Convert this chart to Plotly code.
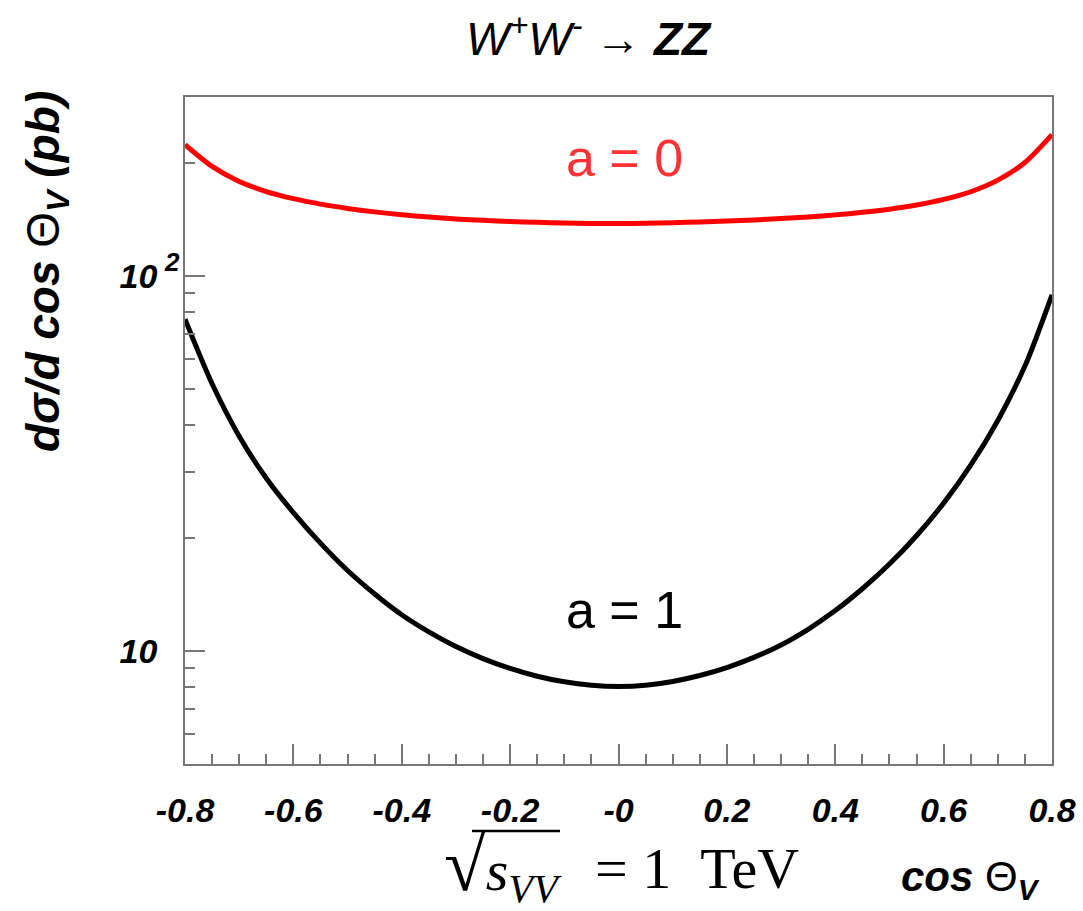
import math
import plotly.graph_objects as go

# ---- data ----
cos_theta = [-0.80, -0.75, -0.70, -0.65, -0.60, -0.55, -0.50, -0.45, -0.40, -0.35,
             -0.30, -0.25, -0.20, -0.15, -0.10, -0.05, 0.00, 0.05, 0.10, 0.15,
             0.20, 0.25, 0.30, 0.35, 0.40, 0.45, 0.50, 0.55, 0.60, 0.65,
             0.70, 0.75, 0.80]

xsec_a0 = [223.9, 195.9, 178.6, 167.9, 160.7, 155.4, 151.4, 148.2, 145.6, 143.6,
           141.9, 140.7, 139.7, 139.0, 138.5, 138.1, 137.9, 138.2, 138.7, 139.3,
           140.2, 141.1, 142.3, 143.7, 145.5, 147.8, 150.7, 154.6, 160.0, 167.7,
           180.1, 200.7, 238.1]

xsec_a1 = [76.7, 51.6, 37.4, 28.9, 23.4, 19.4, 16.4, 14.2, 12.5, 11.25,
           10.28, 9.55, 8.99, 8.57, 8.28, 8.11, 8.05, 8.11, 8.30, 8.61,
           9.04, 9.62, 10.38, 11.43, 12.82, 14.66, 17.06, 20.3, 24.8, 31.3,
           41.2, 57.5, 89.1]

x_tickvals = [-0.8, -0.6, -0.4, -0.2, 0.0, 0.2, 0.4, 0.6, 0.8]
x_ticktext = ["-0.8", "-0.6", "-0.4", "-0.2", "-0", "0.2", "0.4", "0.6", "0.8"]
x_minor = [-0.75, -0.7, -0.65, -0.55, -0.5, -0.45, -0.35, -0.3, -0.25, -0.15, -0.1, -0.05,
           0.05, 0.1, 0.15, 0.25, 0.3, 0.35, 0.45, 0.5, 0.55, 0.65, 0.7, 0.75]
y_tickvals = [10, 100]
y_ticktext = ["10", "10"]
y_exponent_label = "2"
y_minor = [5, 6, 7, 8, 9, 20, 30, 40, 50, 60, 70, 80, 90, 200]
y_range = [5, 300]

# ---- figure ----
FRAME = "#777777"
SANS = "Liberation Sans, Arial, sans-serif"
SERIF = "Liberation Serif, DejaVu Serif, serif"

fig = go.Figure()
fig.add_trace(go.Scatter(x=cos_theta, y=xsec_a0, mode="lines",
                         line=dict(color="#ff0000", width=5, shape="spline", smoothing=0.8),
                         name="a = 0"))
fig.add_trace(go.Scatter(x=cos_theta, y=xsec_a1, mode="lines",
                         line=dict(color="#000000", width=5, shape="spline", smoothing=0.8),
                         name="a = 1"))

axis_common = dict(showline=True, linecolor=FRAME, linewidth=1.5, mirror=True, ticks="inside",
                   ticklen=20, tickwidth=1.5, tickcolor=FRAME, showgrid=False, zeroline=False,
                   automargin=False)

fig.update_xaxes(range=[-0.8, 0.8], tickmode="array", tickvals=x_tickvals, ticktext=x_ticktext,
                 tickfont=dict(family=SANS, size=34, color="black", weight="bold", style="italic"),
                 ticklabelstandoff=15,
                 minor=dict(tickmode="array", tickvals=x_minor, ticks="inside", ticklen=10,
                            tickwidth=1.5, tickcolor=FRAME, showgrid=False),
                 **axis_common)
fig.update_yaxes(type="log", range=[math.log10(y_range[0]), math.log10(y_range[1])],
                 tickmode="array", tickvals=y_tickvals, ticktext=y_ticktext,
                 tickfont=dict(family=SANS, size=34, color="black", weight="bold", style="italic"),
                 ticklabelstandoff=19,
                 minor=dict(tickmode="array", tickvals=y_minor, ticks="inside", ticklen=10,
                            tickwidth=1.5, tickcolor=FRAME, showgrid=False),
                 **axis_common)

L, R, T, B = 185, 31, 97, 147
W, H = 1083, 911
pw, ph = W - L - R, H - T - B


def px(x):
    return (x - L) / pw


def py(y):
    return (H - B - y) / ph


annotations = [
    # title
    dict(x=px(589), y=py(36),
         text="<i>W<sup>+</sup>W<sup>-</sup> → </i><b><i>ZZ</i></b>",
         font=dict(family=SANS, size=46, color="black")),
    # y title
    dict(x=px(46), y=py(272), textangle=-90,
         text="<b><i>dσ/d cos </i></b>Θ<sub><b><i>V</i></b></sub><b><i> (pb)</i></b>",
         font=dict(family=SANS, size=46, color="black")),
    # superscript of the 10^2 tick label
    dict(x=px(172), y=py(262), text="<b><i>" + y_exponent_label + "</i></b>",
         font=dict(family=SANS, size=26, color="black")),
    # x title
    dict(x=px(970), y=py(880),
         text="<b><i>cos </i></b>Θ<sub><b><i>V</i></b></sub>",
         font=dict(family=SANS, size=42, color="black")),
    # sqrt(s) annotation: radical + radicand, then the rest
    dict(x=px(503), y=py(866),
         text="<span style=\"font-size:76px\">√</span><i>s</i><sub><i>VV</i></sub>",
         font=dict(family=SERIF, size=58, color="black")),
    dict(x=px(697), y=py(868), text="=\u00a01\u00a0\u00a0TeV",
         font=dict(family=SERIF, size=58, color="black")),
    # curve labels
    dict(x=px(624), y=py(158), text="a = 0", font=dict(family=SANS, size=52, color="#ff3333")),
    dict(x=px(624), y=py(610), text="a = 1", font=dict(family=SANS, size=52, color="#000000")),
]
for a in annotations:
    a.update(xref="paper", yref="paper", showarrow=False, xanchor="center", yanchor="middle")

# vinculum of the square root (decoration)
shapes = [dict(type="line", xref="paper", yref="paper", x0=px(472), x1=px(560), y0=py(831), y1=py(831),
               line=dict(color="black", width=2.5))]

fig.update_layout(width=W, height=H, margin=dict(l=L, r=R, t=T, b=B),
                  plot_bgcolor="white", paper_bgcolor="white", showlegend=False,
                  annotations=annotations, shapes=shapes)

fig.write_html("out.html")
